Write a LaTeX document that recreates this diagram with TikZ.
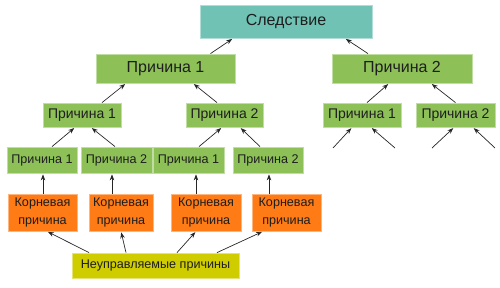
\documentclass[tikz,border=0pt]{standalone}
\usepackage{fontspec}
\setmainfont{Liberation Sans}
\usepackage{xcolor}
\usepackage{tikz}
\usetikzlibrary{arrows.meta}
\definecolor{effteal}{HTML}{6FC2B4}
\definecolor{causegreen}{HTML}{8DC157}
\definecolor{rootorange}{HTML}{FF7B15}
\definecolor{uncyellow}{HTML}{CFCC00}
\definecolor{txtdark}{HTML}{1E1E1E}

\begin{document}
\begin{tikzpicture}[
  x=1pt, y=-1pt,
  box/.style={draw=#1!55!white, fill=#1, line width=0.8pt, align=center, inner sep=0pt, text=txtdark},
  effect/.style={box=effteal, minimum width=172pt, minimum height=33pt, font=\fontsize{16}{18}\selectfont},
  big/.style={box=causegreen, minimum width=139pt, minimum height=29pt, font=\fontsize{16}{18}\selectfont},
  mid/.style={box=causegreen, minimum width=78pt, minimum height=24pt, font=\fontsize{14}{16}\selectfont},
  small/.style={box=causegreen, minimum width=70pt, minimum height=26pt, font=\fontsize{12.6}{15}\selectfont},
  root/.style={box=rootorange, minimum width=69pt, minimum height=37pt, font=\fontsize{12.6}{17.5}\selectfont},
  unctrl/.style={box=uncyellow, minimum width=167pt, minimum height=25pt, font=\fontsize{12.6}{15}\selectfont},
  arr/.style={-{Stealth[length=6pt, width=4.5pt]}, line width=0.7pt, draw=black!85, shorten >=1pt}
]
\useasboundingbox (0,0) rectangle (500,288);
% top level
\node[effect] (eff) at (286,21.5) {Следствие};
\node[big] (c1) at (165.5,68.5) {Причина 1};
\node[big, minimum width=140pt] (c2) at (402,68.5) {Причина 2};
% second level
\node[mid] (c11) at (82,115) {Причина 1};
\node[mid, minimum width=77pt] (c12) at (224.5,115) {Причина 2};
\node[mid] (c21) at (362,115) {Причина 1};
\node[mid, minimum width=79pt] (c22) at (455.5,115) {Причина 2};
% third level
\node[small] (c111) at (42,160) {Причина 1};
\node[small, minimum width=71pt] (c112) at (116.5,160) {Причина 2};
\node[small, minimum width=71pt] (c121) at (188.5,160) {Причина 1};
\node[small] (c122) at (268,160) {Причина 2};
% root causes
\node[root] (r1) at (42.5,212.5) {Корневая\\причина};
\node[root, minimum width=64pt] (r2) at (121,212.5) {Корневая\\причина};
\node[root, minimum width=70pt] (r3) at (206,212.5) {Корневая\\причина};
\node[root] (r4) at (286.5,212.5) {Корневая\\причина};
\node[unctrl] (unc) at (155.5,265.5) {Неуправляемые причины};
% free ends under the right branch
\coordinate (f1) at (333,148); \coordinate (f2) at (395,148);
\coordinate (f3) at (432,148); \coordinate (f4) at (495,148);

\draw[arr] ([xshift=45pt]c1.north) -- ([xshift=-53pt]eff.south);
\draw[arr] ([xshift=-34pt]c2.north) -- ([xshift=59pt]eff.south);
\draw[arr] ([xshift=20pt]c11.north) -- ([xshift=-39.5pt]c1.south);
\draw[arr] ([xshift=-7.5pt]c12.north) -- ([xshift=27.5pt]c1.south);
\draw[arr] ([xshift=5pt]c21.north) -- ([xshift=-13pt]c2.south);
\draw[arr] (c22.north) -- ([xshift=29pt]c2.south);
\draw[arr] ([xshift=10pt]c111.north) -- ([xshift=-7pt]c11.south);
\draw[arr] ([xshift=-1.5pt]c112.north) -- ([xshift=9pt]c11.south);
\draw[arr] ([xshift=10.5pt]c121.north) -- ([xshift=-2.5pt]c12.south);
\draw[arr] ([xshift=-8pt]c122.north) -- ([xshift=15.5pt]c12.south);
\draw[arr] (f1) -- ([xshift=-10pt]c21.south); \draw[arr] (f2) -- ([xshift=9pt]c21.south);
\draw[arr] (f3) -- ([xshift=-1.5pt]c22.south); \draw[arr] (f4) -- ([xshift=17.5pt]c22.south);
\draw[arr] ([xshift=0.5pt]r1.north) -- ([xshift=0.5pt]r1.north |- c111.south);
\draw[arr] ([xshift=-9pt]r2.north) -- ([xshift=-9pt]r2.north |- c112.south);
\draw[arr] ([xshift=-10pt]r3.north) -- ([xshift=-10pt]r3.north |- c121.south);
\draw[arr] ([xshift=-17.5pt]r4.north) -- ([xshift=-17.5pt]r4.north |- c122.south);
\draw[arr] ([xshift=-66.5pt]unc.north) -- ([xshift=4.5pt]r1.south);
\draw[arr] ([xshift=-29.5pt]unc.north) -- (r2.south);
\draw[arr] ([xshift=21.5pt]unc.north) -- ([xshift=-10pt]r3.south);
\draw[arr] ([xshift=61.5pt]unc.north) -- ([xshift=-23.5pt]r4.south);
\end{tikzpicture}
\end{document}
